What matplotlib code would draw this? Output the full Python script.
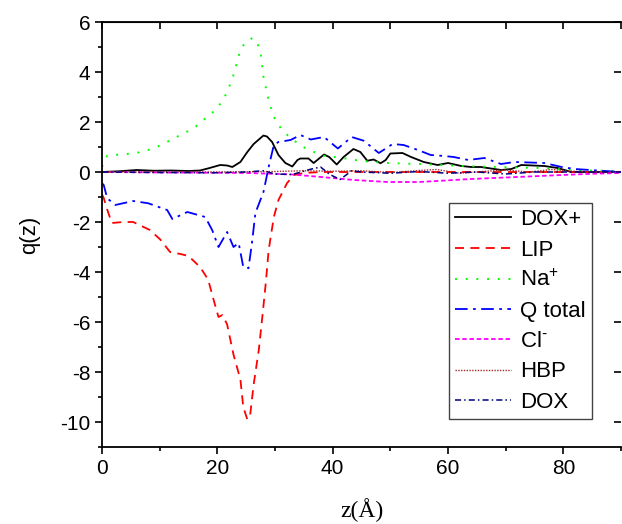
import numpy as np
import matplotlib
matplotlib.use('Agg')
import matplotlib.pyplot as plt
from matplotlib.ticker import MultipleLocator

# ── Data ─────────────────────────────────────────────────────────────────────
z_doxp = [0, 3, 6, 9, 12, 15, 17, 18.5, 20.5, 21.7, 22.6, 24, 25.2, 26.3, 27.2,
          28, 28.6, 29.5, 30.6, 31.8, 33, 33.9, 34.4, 35.8, 36.7, 38.5, 39.4,
          40.7, 41.9, 43.6, 44.8, 46, 47.1, 48.3, 49.2, 50, 52.1, 53.6, 55.8,
          58.2, 60, 62.3, 64, 65.7, 69.2, 71, 72.7, 76.7, 79, 81.4, 87.8, 90]
q_doxp = [0, 0.03, 0.08, 0.05, 0.06, 0.04, 0.06, 0.15, 0.28, 0.26, 0.2, 0.4,
          0.8, 1.12, 1.3, 1.46, 1.42, 1.2, 0.68, 0.36, 0.22, 0.48, 0.54, 0.54,
          0.36, 0.7, 0.6, 0.3, 0.6, 0.92, 0.8, 0.45, 0.5, 0.35, 0.48, 0.74,
          0.76, 0.6, 0.4, 0.28, 0.36, 0.24, 0.2, 0.2, 0.08, 0.12, 0.28, 0.24,
          0.16, 0.0, 0.0, 0.0]

z_lip = [0, 0.3, 0.9, 1.7, 3.7, 5.4, 8.3, 10.1, 11.8, 13.6, 15, 17, 18.4, 19.7,
         20.2, 20.9, 21.7, 22.8, 24, 24.5, 25.2, 25.7, 26.3, 27.2, 27.8, 28.4,
         28.9, 29.8, 30.6, 32.1, 33.3, 35, 38, 45, 55, 65, 75, 90]
q_lip = [-0.9, -1.04, -1.5, -2.04, -2.0, -2.0, -2.32, -2.7, -3.2, -3.28, -3.36,
         -3.8, -4.3, -5.4, -5.8, -5.72, -6.1, -7.3, -8.3, -9.4, -9.9, -9.7,
         -8.5, -7.1, -5.8, -4.44, -3.12, -1.8, -1.12, -0.44, -0.12, -0.04, 0.0,
         0.0, 0.0, 0.0, 0.0, 0.0]

z_na = [0, 0.3, 0.9, 2, 4.3, 7, 9.5, 11, 13.6, 15.9, 18.2, 19.7, 21.1, 21.9,
        22.8, 24, 24.9, 26.1, 26.9, 27.5, 28, 28.9, 29.8, 31, 32.7, 35.6, 38.5,
        42, 45, 49.5, 55, 62.8, 68.6, 76, 82, 86.6, 90]
q_na = [0.2, 0.36, 0.65, 0.68, 0.72, 0.8, 1.0, 1.17, 1.48, 1.75, 2.2, 2.48,
        2.92, 3.31, 3.88, 4.88, 5.2, 5.36, 5.2, 4.75, 3.8, 2.88, 2.2, 1.75,
        1.35, 0.9, 0.65, 0.55, 0.44, 0.36, 0.32, 0.24, 0.2, 0.16, 0.07, 0.05,
        0.03]

z_qtot = [0, 0.3, 0.9, 2.3, 5.4, 8, 11.3, 12.2, 14.8, 17.9, 19.1, 20.2, 21.7,
          22.8, 23.7, 24.5, 25.4, 26, 26.6, 28, 28.9, 29.8, 30.6, 32.7, 34.4,
          36.2, 38.5, 40.9, 43.3, 45.4, 48, 50.4, 52.3, 54.8, 57, 59.3, 61,
          63.5, 66.3, 69.2, 71.5, 76.7, 79.7, 82, 86.6, 90]
q_qtot = [-0.45, -0.52, -1.05, -1.32, -1.16, -1.25, -1.52, -1.88, -1.6, -1.8,
          -2.32, -3.0, -2.4, -3.0, -2.84, -3.8, -3.85, -2.85, -1.64, -0.8, 0.2,
          1.08, 1.2, 1.28, 1.48, 1.3, 1.4, 0.94, 1.4, 1.25, 0.76, 1.12, 1.08,
          0.88, 0.68, 0.64, 0.6, 0.48, 0.56, 0.32, 0.4, 0.36, 0.2, 0.12, 0.05,
          0.0]

z_cl = [0, 10, 20, 25, 28, 33, 38, 43.7, 49.5, 55, 61, 64, 68, 74, 79.7, 85, 90]
q_cl = [0.0, -0.02, -0.03, -0.04, -0.06, -0.1, -0.2, -0.32, -0.4, -0.4, -0.32,
        -0.28, -0.24, -0.18, -0.12, -0.07, -0.04]

z_hbp = [0, 10, 20, 30, 35, 40, 45, 50, 55, 58, 62, 66, 70, 74, 78, 82, 86, 90]
q_hbp = [0, 0, 0.0, 0.02, 0.05, 0.03, 0.05, -0.02, 0.06, 0.1, -0.05, 0.02,
         0.08, 0.0, 0.1, 0.03, 0.0, 0]

z_dox = [0, 10, 20, 25, 28, 30, 33, 36, 37.9, 39.5, 41.3, 43.3, 45, 50, 55, 60,
         65, 70, 75, 80, 85, 90]
q_dox = [0, -0.02, -0.03, 0.0, 0.05, -0.08, -0.1, 0.1, 0.2, -0.1, -0.3, 0.05,
         0.0, -0.05, 0.02, -0.05, 0.0, -0.08, 0.0, 0.0, 0.0, 0.0]

# ── Style ────────────────────────────────────────────────────────────────────
plt.rcParams['font.family'] = ['Liberation Sans', 'DejaVu Sans']
plt.rcParams['axes.unicode_minus'] = False
plt.rcParams['mathtext.fontset'] = 'custom'
plt.rcParams['mathtext.rm'] = 'Liberation Sans'
plt.rcParams['mathtext.it'] = 'Liberation Sans'

fig = plt.figure(figsize=(6.22, 5.24), dpi=100)
ax = fig.add_axes([102 / 622, 77 / 524, 519 / 622, 425 / 524])

ax.plot(z_doxp, q_doxp, color='black', lw=1.3, label='DOX+')
ax.plot(z_lip, q_lip, color='red', lw=1.3, dashes=(5, 3.5), label='LIP')
ax.plot(z_na, q_na, color='#00ff00', lw=1.4, dashes=(1, 4.5), label='Na$^{+}$')
ax.plot(z_qtot, q_qtot, color='blue', lw=1.3, dashes=(7, 3, 1.5, 3),
        label='Q total')
ax.plot(z_cl, q_cl, color='magenta', lw=1.3, dashes=(2.5, 1.5),
        label=r'Cl$^{\text{-}}$')
ax.plot(z_hbp, q_hbp, color='#a52a2a', lw=1.0, dashes=(1, 1), label='HBP')
ax.plot(z_dox, q_dox, color='#000080', lw=1.1, dashes=(4, 2, 1, 2), label='DOX')

ax.set_xlim(0, 90)
ax.set_ylim(-11, 6)
ax.xaxis.set_major_locator(MultipleLocator(20))
ax.xaxis.set_minor_locator(MultipleLocator(10))
ax.yaxis.set_major_locator(MultipleLocator(2))
ax.yaxis.set_minor_locator(MultipleLocator(1))
ax.tick_params(which='both', direction='out', width=1.2, labelsize=15,
               top=False, right=False)
ax.tick_params(which='major', length=5)
ax.tick_params(which='minor', length=3)
ax.tick_params(axis='x', pad=4)
for s in ax.spines.values():
    s.set_linewidth(1.3)
ax.spines['right'].set_visible(False)

# mirrored inward ticks on top and right
axt = ax.secondary_xaxis('top')
axt.xaxis.set_major_locator(MultipleLocator(10))
axt.tick_params(direction='in', length=5, width=1.2, labeltop=False)
axr = ax.secondary_yaxis('right')
axr.yaxis.set_major_locator(MultipleLocator(2))
axr.tick_params(direction='in', length=5, width=1.2, labelright=False)
axr.spines['right'].set_visible(False)

ax.set_ylabel('q(z)', fontsize=16, labelpad=14)
ax.set_xlabel('z(Å)', fontsize=17, family=['Liberation Serif'], labelpad=14)

leg = ax.legend(loc='lower right', bbox_to_anchor=(0.944, 0.065), fontsize=16,
                fancybox=False, framealpha=1, edgecolor='#444444',
                handlelength=2.5, handletextpad=0.4, labelspacing=0.42,
                borderpad=0.3, borderaxespad=0)
leg.get_frame().set_linewidth(1.0)

fig.savefig('out.png', dpi=100)
